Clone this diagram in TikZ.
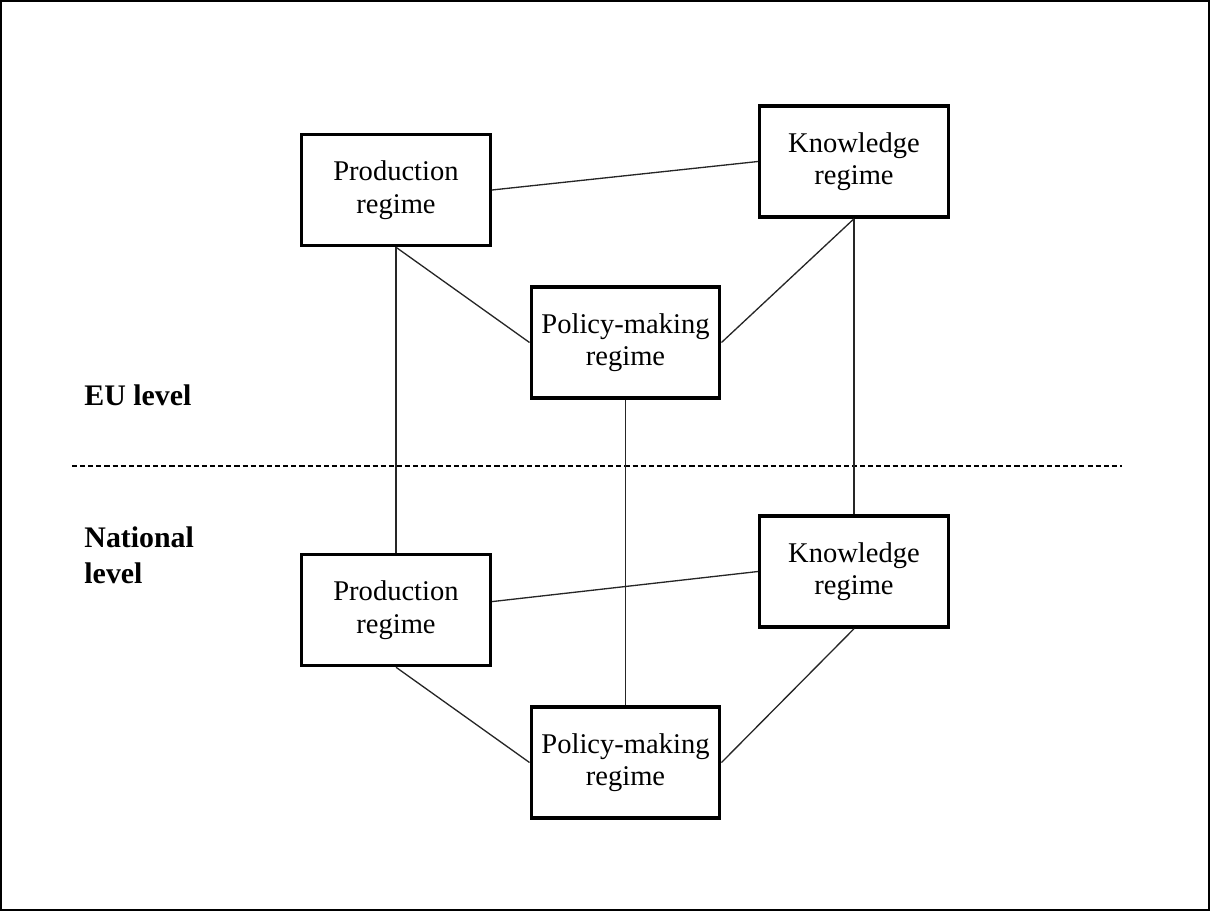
\documentclass[tikz,border=0pt]{standalone}
\usepackage{fontspec}
\setmainfont{Liberation Serif}
\usetikzlibrary{positioning}

\begin{document}
\begin{tikzpicture}[x=0.016cm,y=-0.016cm,
    regime/.style={draw,line width=1.5pt,minimum width=3.02cm,minimum height=1.78cm,
      inner sep=0pt,align=center,font=\fontsize{13}{14.8}\selectfont},
    link/.style={line width=0.6pt,black!85},
    level/.style={anchor=north west,inner sep=0pt,align=left,
      font=\fontsize{13.6}{16.4}\selectfont\bfseries}]
    \useasboundingbox (0,0) rectangle (1210,911);
    \draw [line width=1pt] (1,1) rectangle (1209,910);
    \node[regime] (prodEU) at (396,190) {Production\\regime};
    \node[regime] (knowEU) at (854,161.5) {Knowledge\\regime};
    \node[regime] (polEU) at (625.5,342.5) {Policy-making\\regime};
    \node[regime] (prodNat) at (396,610) {Production\\regime};
    \node[regime] (knowNat) at (854,571.5) {Knowledge\\regime};
    \node[regime] (polNat) at (625.5,762.5) {Policy-making\\regime};
    \node[level] (euLevel) at (84,384) {EU level};
    \node[level] (natLevel) at (84,526) {National\\level};
    \coordinate (sepL) at (72,466);
    \coordinate (sepR) at (1122,466);
    \draw [line width=0.6pt,dash pattern=on 2.3pt off 1.4pt] (sepL)--(sepR);
    \draw [link] (prodEU.east)--(knowEU.west);
    \draw [link] (prodEU.south)--(polEU.west);
    \draw [link] (knowEU.south)--(polEU.east);
    \draw [link] (prodEU.south)--(prodNat.north);
    \draw [link] (knowEU.south)--(knowNat.north);
    \draw [link] (polEU.south)--(polNat.north);
    \draw [link] (prodNat.5)--(knowNat.west);
    \draw [link] (prodNat.south)--(polNat.west);
    \draw [link] (knowNat.south)--(polNat.east);
\end{tikzpicture}
\end{document}
